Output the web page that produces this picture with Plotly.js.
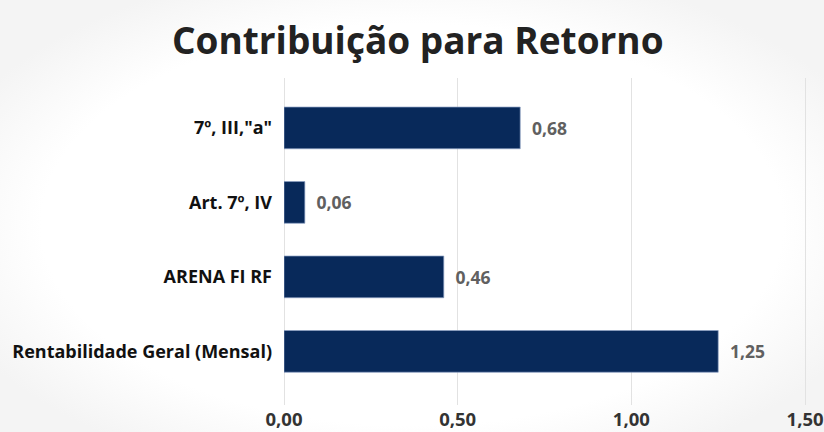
<!DOCTYPE html>
<html>
<head>
<meta charset="utf-8">
<script src="https://cdn.plot.ly/plotly-3.0.1.min.js"></script>
<style>
html,body{margin:0;padding:0;width:824px;height:432px;overflow:hidden;background:#ffffff;}
#wrap{position:absolute;left:0;top:0;width:824px;height:432px;
background:radial-gradient(ellipse 60% 62% at 50% 52%, #ffffff 75%, #f4f4f4 100%);}
#chart{position:absolute;left:0;top:0;width:824px;height:432px;}
</style>
</head>
<body>
<div id="wrap"></div>
<div id="chart"></div>
<script>
// Data (bottom to top)
const categories = ["Rentabilidade Geral (Mensal)", "ARENA FI RF", "Art. 7º, IV", "7º, III,\"a\""];
const values = [1.25, 0.46, 0.06, 0.68];
const tickVals = [0, 0.5, 1.0, 1.5];

const trace = {
  type: 'bar',
  orientation: 'h',
  y: categories,
  x: values,
  marker: {color: '#08295A', line: {color: 'rgba(140,160,195,0.7)', width: 1}},
  texttemplate: '\u2002%{x:.2f}',
  textposition: 'outside',
  constraintext: 'none',
  cliponaxis: false,
  textfont: {family: 'Open Sans, sans-serif', size: 17.5, color: '#606060', weight: 'bold'},
  hoverinfo: 'none'
};

const layout = {
  width: 824, height: 432,
  separators: ',.',
  paper_bgcolor: 'rgba(0,0,0,0)',
  plot_bgcolor: 'rgba(0,0,0,0)',
  margin: {l: 284, r: 12, t: 78, b: 27, pad: 0},
  title: {
    text: '<b>Contribuição para Retorno</b>',
    font: {family: 'Open Sans, sans-serif', size: 37, color: '#222222'},
    x: 0.507, xanchor: 'center', xref: 'container',
    y: 0.905, yanchor: 'middle', yref: 'container'
  },
  bargap: 0.44,
  showlegend: false,
  xaxis: {
    range: [0, 1.52],
    tickvals: tickVals,
    tickformat: '.2f',
    showgrid: true, gridcolor: '#e2e2e2', gridwidth: 1,
    zeroline: true, zerolinecolor: '#e2e2e2', zerolinewidth: 1,
    showline: false,
    ticks: '',
    ticklabelstandoff: 1,
    tickfont: {family: 'Open Sans, sans-serif', size: 18.5, color: '#333333', weight: 'bold'},
    fixedrange: true
  },
  yaxis: {
    type: 'category',
    range: [-0.72, 3.67],
    showgrid: false, zeroline: false, showline: false,
    ticks: '',
    ticklabelstandoff: 11,
    tickfont: {family: 'Open Sans, sans-serif', size: 18, color: '#111111', weight: 'bold'},
    fixedrange: true
  }
};

Plotly.newPlot('chart', [trace], layout, {displayModeBar: false, staticPlot: true});
</script>
</body>
</html>
